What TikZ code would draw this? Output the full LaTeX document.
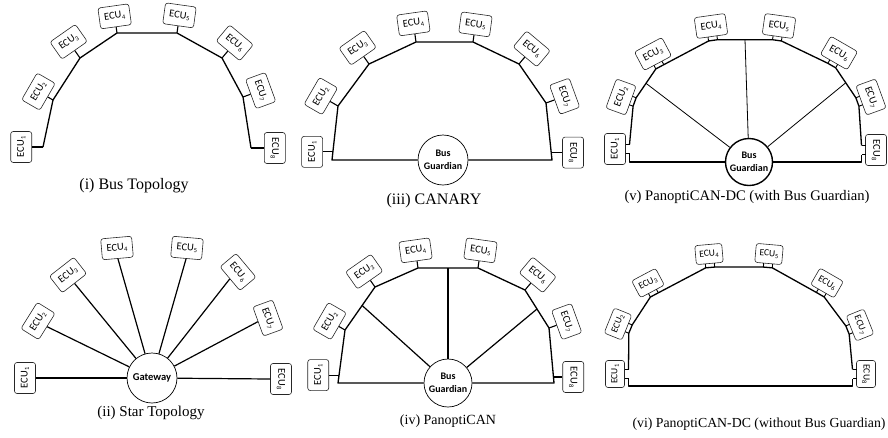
\documentclass[tikz,border=0pt]{standalone}
\usepackage{fontspec}
\setmainfont{Liberation Serif}
\newfontfamily\ecufont{Carlito}
\usetikzlibrary{calc}
\newcommand\ecutxt[1]{ECU\kern0.2pt\raisebox{-1.5pt}{\fontsize{6.5}{6.5}\selectfont #1}}
\tikzset{
 ecubox/.style={draw=black!85, line width=0.6pt, rounded corners=2.5pt, minimum width=31pt, minimum height=21pt, inner sep=1pt, font={\ecufont\fontsize{10.5}{10.5}\selectfont}},
 ecusmall/.style={ecubox, minimum width=27pt, minimum height=19pt, font={\ecufont\fontsize{9.5}{9.5}\selectfont}},
 dcbox/.style={ecubox},
 bus/.style={line width=1.3pt, line join=round},
 stub/.style={line width=1.1pt},
 spoke/.style={line width=1.2pt},
 thinspoke/.style={line width=0.8pt},
 hub/.style={circle, draw, line width=0.7pt, fill=white, minimum size=50pt, inner sep=0pt, align=center, font={\ecufont\bfseries\fontsize{10}{12.5}\selectfont}},
 captext/.style={inner sep=0pt},
}
% single-stub ECU: name, bus point, angle, stub length, index
\newcommand\ecuS[5]{%
  \node[ecubox,rotate=#3,anchor=south] (#1) at ($(#2)+({#3+90}:#4pt)$) {\ecutxt{#5}};
  \draw[stub] (#2) -- (#1.south);}
% free ECU (star): name, x, y, angle, index
\newcommand\ecuF[5]{\node[ecubox,rotate=#4] (#1) at (#2,#3) {\ecutxt{#5}};}
% double-stub ECU: name, x, y, angle, index
\def\dcb{-10.5pt}\def\dce{-14.5pt}
\newcommand\ecuD[5]{%
  \begin{scope}[shift={(#2,#3)},rotate=#4]
    \node[dcbox,rotate=#4] (#1) at (0pt,0pt) {\ecutxt{#5}};
    \coordinate (#1-ta) at (-4.5pt,\dcb);
    \coordinate (#1-tb) at (4.5pt,\dcb);
    \coordinate (#1-a) at (-4.5pt,\dce);
    \coordinate (#1-b) at (4.5pt,\dce);
    \draw[stub,line width=0.9pt] (#1-ta) -- (#1-a);
    \draw[stub,line width=0.9pt] (#1-tb) -- (#1-b);
  \end{scope}}

\begin{document}
\begin{tikzpicture}[x=1pt,y=-1pt]
\useasboundingbox (0,0) rectangle (888,437);

%% (i) Bus topology
\coordinate (i-p1) at (43,147);
\coordinate (i-p2) at (53,100);
\coordinate (i-p3) at (80,58);
\coordinate (i-p4) at (117,33);
\coordinate (i-p5) at (177,33);
\coordinate (i-p6) at (222,58);
\coordinate (i-p7) at (243,97);
\coordinate (i-p8) at (251,148);
\draw[bus] (i-p1) -- (i-p2) -- (i-p3) -- (i-p4) -- (i-p5) -- (i-p6) -- (i-p7) -- (i-p8);
\ecuS{i1}{i-p1}{90}{11}{1}
\ecuS{i2}{i-p2}{60}{6}{2}
\ecuS{i3}{i-p3}{35}{9}{3}
\ecuS{i4}{i-p4}{8}{6}{4}
\ecuS{i5}{i-p5}{-8}{7}{5}
\ecuS{i6}{i-p6}{-40}{9}{6}
\ecuS{i7}{i-p7}{-70}{8}{7}
\ecuS{i8}{i-p8}{-90}{13}{8}
\node[captext,font=\fontsize{16}{16}\selectfont] (cap1) at (134,186) {(i) Bus Topology};

%% (ii) Star topology
\node[hub,font={\ecufont\bfseries\fontsize{10.5}{12}\selectfont}] (G) at (152,378) {Gateway};
\ecuF{s1}{25}{378}{90}{1}
\ecuF{s2}{38}{321}{58}{2}
\ecuF{s3}{68}{275}{38}{3}
\ecuF{s4}{117}{248}{5}{4}
\ecuF{s5}{187}{248}{-5}{5}
\ecuF{s6}{238}{272}{-50}{6}
\ecuF{s7}{268}{318}{-70}{7}
\ecuF{s8}{281}{379}{-90}{8}
\foreach \k in {1,...,8}{\draw[spoke] (s\k.south) -- (G);}
\node[captext,font=\fontsize{15}{15}\selectfont] (cap2) at (151,413) {(ii) Star Topology};

%% (iii) CANARY
\coordinate (iii-bl) at (332,160);
\coordinate (iii-p2) at (338,106);
\coordinate (iii-p3) at (369,64);
\coordinate (iii-p4) at (416,42);
\coordinate (iii-p5) at (473,42);
\coordinate (iii-p6) at (519,64);
\coordinate (iii-p7) at (546,103);
\coordinate (iii-br) at (552,160);
\coordinate (iii-s1) at ($(iii-bl)!0.15!(iii-p2)$);
\coordinate (iii-s8) at ($(iii-br)!0.13!(iii-p7)$);
\node[hub] (iiiG) at (443,160) {Bus\\Guardian};
\draw[bus] (iiiG) -- (iii-bl) -- (iii-p2) -- (iii-p3) -- (iii-p4) -- (iii-p5) -- (iii-p6) -- (iii-p7) -- (iii-br) -- (iiiG);
\ecuS{c1}{iii-s1}{90}{10}{1}
\ecuS{c2}{iii-p2}{60}{9}{2}
\ecuS{c3}{iii-p3}{35}{9}{3}
\ecuS{c4}{iii-p4}{8}{8}{4}
\ecuS{c5}{iii-p5}{-8}{7}{5}
\ecuS{c6}{iii-p6}{-40}{9}{6}
\ecuS{c7}{iii-p7}{-70}{9}{7}
\ecuS{c8}{iii-s8}{-90}{11}{8}
\node[captext,font=\fontsize{16}{16}\selectfont] (cap3) at (434,201) {(iii) CANARY};

%% (iv) PanoptiCAN
\coordinate (iv-bl) at (338,383);
\coordinate (iv-p2) at (345,330);
\coordinate (iv-p3) at (375,287);
\coordinate (iv-p4) at (418,268);
\coordinate (iv-p5) at (478,268);
\coordinate (iv-p6) at (525,290);
\coordinate (iv-p7) at (549,328);
\coordinate (iv-br) at (554,383);
\coordinate (iv-s1) at ($(iv-bl)!0.15!(iv-p2)$);
\coordinate (iv-s8) at ($(iv-br)!0.11!(iv-p7)$);
\coordinate (iv-k1) at ($(iv-p2)!0.57!(iv-p3)$);
\coordinate (iv-k2) at ($(iv-p4)!0.5!(iv-p5)$);
\coordinate (iv-k3) at ($(iv-p6)!0.5!(iv-p7)$);
\node[hub,minimum size=48pt] (ivG) at (448,383) {Bus\\Guardian};
\draw[bus] (ivG) -- (iv-bl) -- (iv-p2) -- (iv-p3) -- (iv-p4) -- (iv-p5) -- (iv-p6) -- (iv-p7) -- (iv-br) -- (ivG);
\draw[spoke] (ivG) -- (iv-k1);
\draw[spoke] (ivG) -- (iv-k2);
\draw[spoke] (ivG) -- (iv-k3);
\ecuS{d1}{iv-s1}{90}{10}{1}
\ecuS{d2}{iv-p2}{60}{7}{2}
\ecuS{d3}{iv-p3}{35}{8}{3}
\ecuS{d4}{iv-p4}{8}{7}{4}
\ecuS{d5}{iv-p5}{-8}{7}{5}
\ecuS{d6}{iv-p6}{-40}{9}{6}
\ecuS{d7}{iv-p7}{-70}{8}{7}
\ecuS{d8}{iv-s8}{-90}{9}{8}
\node[captext,font=\fontsize{14}{14}\selectfont] (cap4) at (448,421) {(iv) PanoptiCAN};

%% (v) PanoptiCAN-DC with Bus Guardian
\ecuD{v1}{615}{149}{90}{1}
\ecuD{v2}{621}{97}{70}{2}
\ecuD{v3}{653}{54}{28}{3}
\ecuD{v4}{711}{26}{8}{4}
\ecuD{v5}{779}{26}{-8}{5}
\ecuD{v6}{839}{53}{-30}{6}
\ecuD{v7}{871}{97}{-70}{7}
\ecuD{v8}{876}{150}{-90}{8}
\node[hub,line width=1.4pt,minimum size=47pt] (vG) at (749,162) {Bus\\Guardian};
\draw[bus] (v1-b) -- (v2-a) -- (v2-b) -- (v3-a) -- (v3-b) -- (v4-a) -- (v4-b) -- (v5-a) -- (v5-b) -- (v6-a) -- (v6-b) -- (v7-a) -- (v7-b) -- (v8-a);
\draw[bus] (v1-a) |- (vG);
\draw[bus] (vG) -| (v8-b);
\coordinate (v-k1) at ($(v2-b)!0.5!(v3-a)$);
\coordinate (v-k2) at ($(v4-b)!0.5!(v5-a)$);
\coordinate (v-k3) at ($(v6-b)!0.5!(v7-a)$);
\draw[thinspoke] (vG) -- (v-k1);
\draw[thinspoke] (vG) -- (v-k2);
\draw[thinspoke] (vG) -- (v-k3);
\node[captext,font=\fontsize{14.6}{14.6}\selectfont] (cap5) at (747,197) {(v) PanoptiCAN-DC (with Bus Guardian)};

%% (vi) PanoptiCAN-DC without Bus Guardian
\tikzset{dcbox/.style={ecusmall}}
\def\dcb{-9.5pt}\def\dce{-13.5pt}
\ecuD{w1}{615}{374}{90}{1}
\ecuD{w2}{618}{324}{68}{2}
\ecuD{w3}{648}{283}{28}{3}
\ecuD{w4}{709}{254}{5}{4}
\ecuD{w5}{769}{254}{-5}{5}
\ecuD{w6}{827}{283}{-30}{6}
\ecuD{w7}{860}{325}{-68}{7}
\ecuD{w8}{866}{374}{-90}{8}
\coordinate (w-bot) at (740,386);
\draw[bus] (w1-b) -- (w2-a) -- (w2-b) -- (w3-a) -- (w3-b) -- (w4-a) -- (w4-b) -- (w5-a) -- (w5-b) -- (w6-a) -- (w6-b) -- (w7-a) -- (w7-b) -- (w8-a);
\draw[bus] (w1-a) |- (w-bot) -| (w8-b);
\node[captext,font=\fontsize{13.8}{13.8}\selectfont] (cap6) at (759,424) {(vi) PanoptiCAN-DC (without Bus Guardian)};
\end{tikzpicture}
\end{document}
